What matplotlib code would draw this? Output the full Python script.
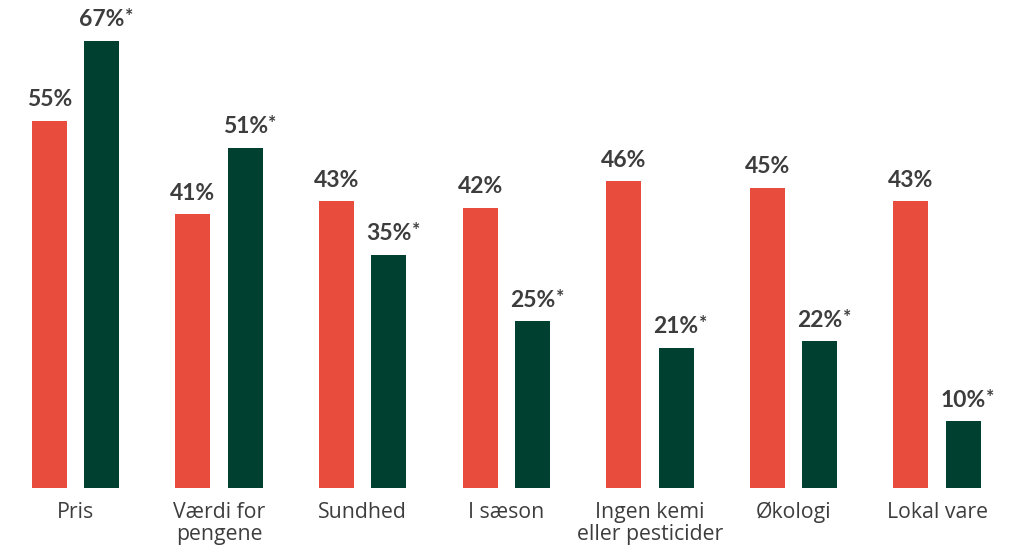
import matplotlib
matplotlib.use("Agg")
import matplotlib.pyplot as plt
import numpy as np

categories = ["Pris", "Værdi for\npengene", "Sundhed", "I sæson",
              "Ingen kemi\neller pesticider", "Økologi", "Lokal vare"]
series_a = [55, 41, 43, 42, 46, 45, 43]
series_b = [67, 51, 35, 25, 21, 22, 10]
labels_a = ["55%", "41%", "43%", "42%", "46%", "45%", "43%"]
labels_b = ["67%", "51%", "35%", "25%", "21%", "22%", "10%"]
suffix_b = "*"

RED = "#E84C3D"
GREEN = "#004030"
TXT = "#3d3d3d"

plt.rcParams['font.family'] = ['Lato', 'DejaVu Sans']

fig = plt.figure(figsize=(10.24, 5.55), dpi=100)
unit = 143.6
ax = fig.add_axes([(75.5 - unit / 2) / 1024, 67 / 555, 7 * unit / 1024, 467 / 555])
x = np.arange(len(categories))
w = 35 / unit
off = 26.2 / unit
ax.bar(x - off, series_a, width=w, color=RED)
ax.bar(x + off, series_b, width=w, color=GREEN)
ax.set_xlim(-0.5, 6.5)
ax.set_ylim(0, 70)
ax.axis('off')

vfs = 16.5
for i in range(len(categories)):
    ax.annotate(labels_a[i], (x[i] - off, series_a[i]), xytext=(0, 10.5),
                textcoords='offset points', ha='center', va='baseline',
                fontsize=vfs, fontweight='bold', color=TXT)
    t = ax.annotate(labels_b[i], (x[i] + off, series_b[i]), xytext=(0, 10.5),
                    textcoords='offset points', ha='center', va='baseline',
                    fontsize=vfs, fontweight='bold', color=TXT)
    t._suffix = True

fig.canvas.draw()
r = fig.canvas.get_renderer()
for t in [c for c in ax.texts if getattr(c, '_suffix', False)]:
    bb = t.get_window_extent(r)
    fig.text((bb.x1 + 0.5) / fig.bbox.width, (bb.y1 + 1) / fig.bbox.height, suffix_b,
             ha='left', va='top', fontsize=14, fontweight='bold', color=TXT)

for i, c in enumerate(categories):
    ax.annotate(c, (x[i], 0), xytext=(0, -10), textcoords='offset points',
                ha='center', va='top', fontsize=15.3, color=TXT,
                family=['Open Sans', 'DejaVu Sans'], linespacing=1.1)

fig.savefig("out.png", dpi=100)
